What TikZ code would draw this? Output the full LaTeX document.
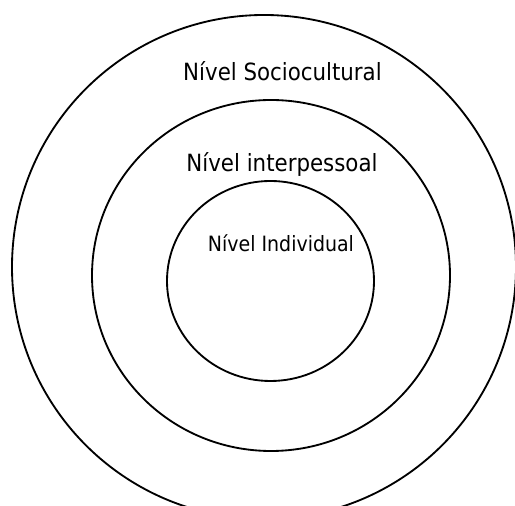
\documentclass[tikz,border=0pt]{standalone}
\usepackage{fontspec}
\setmainfont{DejaVu Sans Condensed}
\usepackage{tikz}
\usetikzlibrary{positioning}
\tikzstyle{ring} = [draw=black, line width=1.05pt]
\tikzstyle{levellabel} = [inner sep=0pt, anchor=base, text=black, font=\fontsize{13.5}{15}\selectfont]

\begin{document}
\begin{tikzpicture}[x=0.02cm, y=-0.02cm]
    \useasboundingbox (0,0) rectangle (515,506);
    \clip (0,0) rectangle (515,506);
    \fill[white] (0,0) rectangle (515,506);

    \draw[ring] (264,267) ellipse [x radius=252, y radius=252];
    \draw[ring] (271,275.5) ellipse [x radius=179, y radius=175.5];
    \draw[ring] (270.5,281) ellipse [x radius=103.5, y radius=100];

    \node[levellabel] (socio) at (282.5,81) {Nível Sociocultural};
    \node[levellabel] (inter) at (282,172) {Nível interpessoal};
    \node[levellabel, font=\fontsize{12}{14}\selectfont] (indiv) at (281,252) {Nível Individual};
\end{tikzpicture}
\end{document}
